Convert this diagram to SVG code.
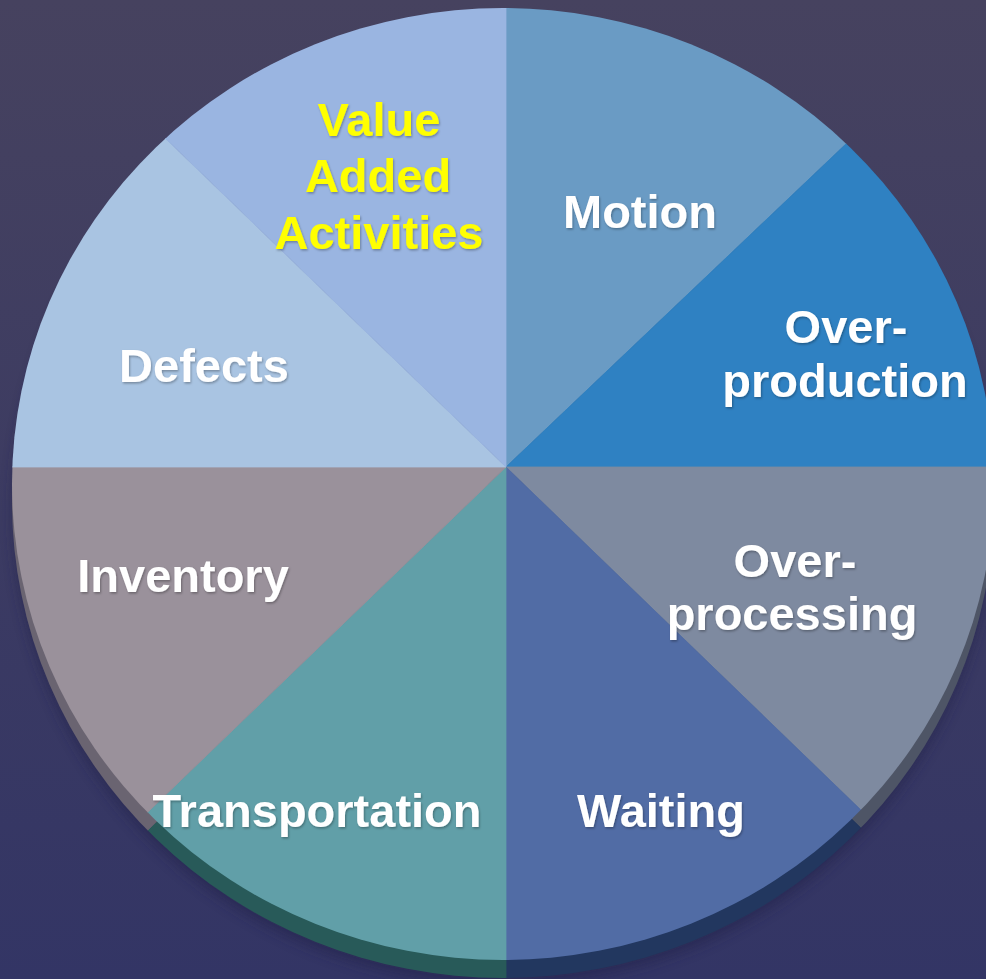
<svg xmlns="http://www.w3.org/2000/svg" width="986" height="979" viewBox="0 0 986 979">
  <defs>
    <linearGradient id="bg" x1="0" y1="0" x2="0" y2="1">
      <stop offset="0" stop-color="#46425f"/>
      <stop offset="1" stop-color="#333565"/>
    </linearGradient>
    <clipPath id="face">
      <ellipse cx="503" cy="484" rx="491" ry="476"/>
    </clipPath>
    <clipPath id="side">
      <ellipse cx="503" cy="502" rx="491" ry="476"/>
    </clipPath>
    <filter id="blur" x="-10%" y="-10%" width="120%" height="120%">
      <feGaussianBlur stdDeviation="6"/>
    </filter>
    <filter id="ts" x="-10%" y="-30%" width="120%" height="160%">
      <feDropShadow dx="1" dy="1.5" stdDeviation="1" flood-color="#000" flood-opacity="0.3"/>
    </filter>
    <style>
      .lbl { font-family: "Liberation Sans", Arial, sans-serif; font-weight: bold; font-size: 47px; text-anchor: middle; fill: #ffffff; filter: url(#ts); }
      .yel { fill: #ffff00; }
      .wedge { stroke-width: 0.8; stroke-linejoin: round; }
    </style>
  </defs>

  <rect width="986" height="979" fill="url(#bg)"/>

  <!-- shadow beneath the pie -->
  <ellipse cx="503" cy="510" rx="491" ry="476" fill="#24244a" opacity="0.5" filter="url(#blur)"/>

  <!-- side (rim) of the 3D pie -->
  <g id="rim" clip-path="url(#side)">
    <g transform="translate(0,18)">
      <polygon class="wedge" points="506,467 1600,467 1577,1502" fill="#4e5566" stroke="#4e5566"/>
      <polygon class="wedge" points="506,467 1577,1502 506,1600" fill="#22375f" stroke="#22375f"/>
      <polygon class="wedge" points="506,467 506,1600 -562,1496" fill="#285a59" stroke="#285a59"/>
      <polygon class="wedge" points="506,467 -562,1496 -600,467" fill="#6a6471" stroke="#6a6471"/>
    </g>
  </g>

  <!-- top face slices -->
  <g clip-path="url(#face)">
    <g id="motion"><polygon class="wedge" points="506,467 506,-600 1532,-508" fill="#6a9bc4" stroke="#6a9bc4"/></g>
    <g id="overproduction"><polygon class="wedge" points="506,467 1532,-508 1600,-508 1600,467" fill="#2f81c2" stroke="#2f81c2"/></g>
    <g id="overprocessing"><polygon class="wedge" points="506,467 1600,467 1577,1502" fill="#7e8aa0" stroke="#7e8aa0"/></g>
    <g id="waiting"><polygon class="wedge" points="506,467 1577,1502 506,1600" fill="#516ca5" stroke="#516ca5"/></g>
    <g id="transportation"><polygon class="wedge" points="506,467 506,1600 -562,1496" fill="#619fa8" stroke="#619fa8"/></g>
    <g id="inventory"><polygon class="wedge" points="506,467 -562,1496 -600,467" fill="#9a919b" stroke="#9a919b"/></g>
    <g id="defects"><polygon class="wedge" points="506,467 -600,467 -600,-514 -511,-514" fill="#a9c4e2" stroke="#a9c4e2"/></g>
    <g id="valueadded"><polygon class="wedge" points="506,467 -511,-514 506,-600" fill="#9ab5e1" stroke="#9ab5e1"/></g>
  </g>

  <!-- labels -->
  <g id="labels">
    <text class="lbl yel" x="379" y="136">Value</text>
    <text class="lbl yel" x="378" y="192">Added</text>
    <text class="lbl yel" x="379" y="249">Activities</text>
    <text class="lbl" x="640" y="228">Motion</text>
    <text class="lbl" x="846" y="343">Over-</text>
    <text class="lbl" x="845" y="397">production</text>
    <text class="lbl" x="204" y="382">Defects</text>
    <text class="lbl" x="795" y="577">Over-</text>
    <text class="lbl" x="792" y="630">processing</text>
    <text class="lbl" x="183" y="592">Inventory</text>
    <text class="lbl" x="317" y="827">Transportation</text>
    <text class="lbl" x="661" y="827">Waiting</text>
  </g>
</svg>
